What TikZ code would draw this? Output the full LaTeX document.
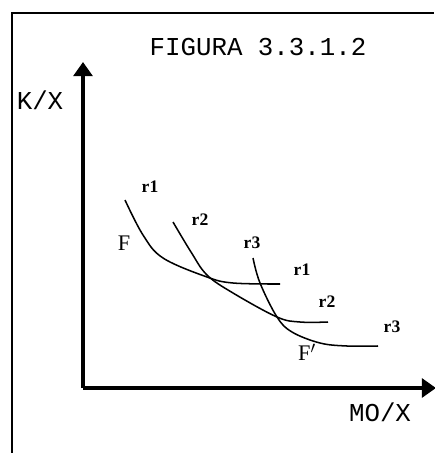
\documentclass[tikz,border=0pt]{standalone}
\usepackage{fontspec}
\usepackage{tikz}
\usetikzlibrary{arrows.meta,positioning}
\setmainfont{Liberation Serif}
\setmonofont{Liberation Mono}
\tikzset{
  figframe/.style={draw=black,line width=0.9pt},
  figaxis/.style={-{Triangle[length=12pt,width=16pt]},line width=3.2pt},
  isocurve/.style={line width=1.3pt,smooth,tension=0.6},
  axislbl/.style={font=\ttfamily\fontsize{22}{24}\selectfont,inner sep=0pt},
  rlbl/.style={font=\bfseries\fontsize{15}{17}\selectfont,inner sep=0pt},
  flbl/.style={font=\fontsize{19}{21}\selectfont,inner sep=0pt}
}
\begin{document}
\begin{tikzpicture}[x=0.03cm,y=-0.03cm]
\useasboundingbox (0,0) rectangle (434,453);
% frame
\draw[figframe] (12,453) -- (12,13) -- (434,13);
% axes
\coordinate (o) at (83,388);
\coordinate (ytop) at (83,62);
\coordinate (xend) at (436,388);
\draw[figaxis] (o) -- (ytop);
\draw[figaxis] (o) -- (xend);
\node[axislbl] (title) at (258,47) {FIGURA 3.3.1.2};
\node[axislbl] (ky) at (40,100) {K/X};
\node[axislbl] (mx) at (380,412) {MO/X};
% curves
\draw[isocurve] plot coordinates {(125,200) (143,235) (163,258) (207,277) (233,283) (280,284)};
\draw[isocurve] plot coordinates {(173,222) (191,252) (207,275) (233,293) (277,317) (300,322) (328,322)};
\draw[isocurve] plot coordinates {(253,258) (260,283) (277,317) (292,332) (320,343) (347,346) (378,346)};
% labels
\node[rlbl] (r1a) at (150,187) {r1};
\node[rlbl] (r2a) at (200,220) {r2};
\node[rlbl] (r3a) at (252,243) {r3};
\node[rlbl] (r1b) at (302,270) {r1};
\node[rlbl] (r2b) at (327,302) {r2};
\node[rlbl] (r3b) at (392,327) {r3};
\node[flbl] (f) at (124,243) {F};
\node[flbl] (fp) at (307,352) {F$'$};
\end{tikzpicture}
\end{document}
